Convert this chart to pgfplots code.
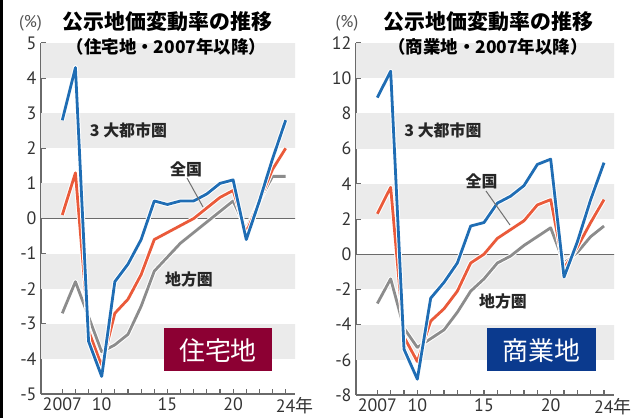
\documentclass[border=0pt]{standalone}
\usepackage{pgfplots}
\pgfplotsset{compat=1.18}
\usepackage{fontspec}
\setmainfont{Noto Sans CJK JP}
\newfontfamily\cjk{Noto Sans CJK JP}
\newfontfamily\tickfont{PT Sans}
\definecolor{bandgray}{HTML}{EBEBEB}
\definecolor{axisgray}{HTML}{6A6A6A}
\definecolor{ticktext}{HTML}{333333}
\definecolor{lblue}{HTML}{1F6DB4}
\definecolor{lred}{HTML}{EA5A3A}
\definecolor{lgray}{HTML}{8C8C8C}
\definecolor{boxred}{HTML}{8C0033}
\definecolor{boxblue}{HTML}{0B3A8E}

\pgfplotstableread{
year metro nation region
2007 2.8 0.1 -2.7
2008 4.3 1.3 -1.8
2009 -3.5 -3.2 -2.8
2010 -4.5 -4.2 -3.8
2011 -1.8 -2.7 -3.6
2012 -1.3 -2.3 -3.3
2013 -0.6 -1.6 -2.5
2014 0.5 -0.6 -1.5
2015 0.4 -0.4 -1.1
2016 0.5 -0.2 -0.7
2017 0.5 0.0 -0.4
2018 0.7 0.3 -0.1
2019 1.0 0.6 0.2
2020 1.1 0.8 0.5
2021 -0.6 -0.4 -0.3
2022 0.5 0.5 0.5
2023 1.7 1.4 1.2
2024 2.8 2.0 1.2
}\residential

\pgfplotstableread{
year metro nation region
2007 8.9 2.3 -2.8
2008 10.4 3.8 -1.4
2009 -5.4 -4.7 -4.2
2010 -7.1 -6.1 -5.3
2011 -2.5 -3.8 -4.8
2012 -1.6 -3.1 -4.3
2013 -0.5 -2.1 -3.3
2014 1.6 -0.5 -2.1
2015 1.8 0.0 -1.4
2016 2.9 0.9 -0.5
2017 3.3 1.4 -0.1
2018 3.9 1.9 0.5
2019 5.1 2.8 1.0
2020 5.4 3.1 1.5
2021 -1.3 -0.8 -0.5
2022 0.7 0.4 0.1
2023 3.1 1.8 1.0
2024 5.2 3.1 1.6
}\commercial

\pgfplotsset{
  panel/.style={
    scale only axis, anchor=south west,
    axis x line=bottom, axis y line=left,
    axis line style={-, draw=axisgray, line width=1.3bp},
    tick style={draw=axisgray, line width=1.1bp},
    tick align=inside,
    major tick length=5bp,
    xtick={2007,...,2024},
    xticklabels={2007,,,10,,,,,15,,,,,20,,,,24\rlap{\cjk 年}},
    ticklabel style={font=\tickfont\fontsize{18}{18}\selectfont, text=ticktext},
    yticklabel style={xshift=-1bp},
    enlargelimits=false,
    clip=true,
  },
  series/.style={line width=2.8bp, draw=#1, preaction={draw=white, line width=4.8bp}, mark=none, line join=round},
}

\begin{document}
\begin{tikzpicture}[x=1bp,y=1bp]
\path[use as bounding box] (0,0) rectangle (637,418);
\fill[black] (0,0) rectangle (3,418);

% Left panel: residential
\begin{axis}[panel, at={(41bp,24bp)}, width=254bp, height=351bp,
  xmin=2005.38, xmax=2024.71, ymin=-5, ymax=5,
  ytick={-5,...,5},
  yticklabels={-5,-4,-3,-2,-1,0,1,2,3,4,5}]
  \fill[bandgray] (axis cs:2000,4) rectangle (axis cs:2030,5);
  \fill[bandgray] (axis cs:2000,2) rectangle (axis cs:2030,3);
  \fill[bandgray] (axis cs:2000,0) rectangle (axis cs:2030,1);
  \fill[bandgray] (axis cs:2000,-2) rectangle (axis cs:2030,-1);
  \fill[bandgray] (axis cs:2000,-4) rectangle (axis cs:2030,-3);
  \draw[axisgray, line width=1.3bp] (axis cs:2000,0) -- (axis cs:2030,0);
  \addplot[series=lgray] table[x=year, y=region] {\residential};
  \addplot[series=lred] table[x=year, y=nation] {\residential};
  \addplot[series=lblue] table[x=year, y=metro] {\residential};
\end{axis}

% Right panel: commercial
\begin{axis}[panel, at={(356bp,23bp)}, width=258bp, height=352bp,
  xmin=2005.4, xmax=2024.75, ymin=-8, ymax=12,
  ytick={-8,-6,...,12},
  yticklabels={-8,-6,-4,-2,0,2,4,6,8,10,12}]
  \fill[bandgray] (axis cs:2000,10) rectangle (axis cs:2030,12);
  \fill[bandgray] (axis cs:2000,6) rectangle (axis cs:2030,8);
  \fill[bandgray] (axis cs:2000,2) rectangle (axis cs:2030,4);
  \fill[bandgray] (axis cs:2000,-2) rectangle (axis cs:2030,0);
  \fill[bandgray] (axis cs:2000,-6) rectangle (axis cs:2030,-4);
  \draw[axisgray, line width=1.3bp] (axis cs:2000,0) -- (axis cs:2030,0);
  \addplot[series=lgray] table[x=year, y=region] {\commercial};
  \addplot[series=lred] table[x=year, y=nation] {\commercial};
  \addplot[series=lblue] table[x=year, y=metro] {\commercial};
\end{axis}

% Titles
\node[text=black, font=\cjk\bfseries\fontsize{21}{21}\selectfont] at (167.5,396) {公示地価変動率の推移};
\node[text=black, font=\cjk\bfseries\fontsize{17.5}{17.5}\selectfont] at (166.5,371) {（住宅地・2007年以降）};
\node[text=black, font=\cjk\bfseries\fontsize{21}{21}\selectfont] at (488.5,396) {公示地価変動率の推移};
\node[text=black, font=\cjk\bfseries\fontsize{17.5}{17.5}\selectfont] at (488,371) {（商業地・2007年以降）};
\node[text=ticktext!85, font=\tickfont\fontsize{17}{17}\selectfont] at (30.5,395) {(\%)};
\node[text=ticktext!85, font=\tickfont\fontsize{17}{17}\selectfont] at (347,395) {(\%)};

% Series labels
\node[text=black!85, font=\cjk\bfseries\fontsize{16}{16}\selectfont] at (128.5,288) {3 大都市圏};
\node[text=black!85, font=\cjk\bfseries\fontsize{16}{16}\selectfont] at (443,288) {3 大都市圏};
\node[text=black!85, font=\cjk\bfseries\fontsize{16}{16}\selectfont] at (186,249) {全国};
\node[text=black!85, font=\cjk\bfseries\fontsize{16}{16}\selectfont] at (481.5,237) {全国};
\node[text=black!85, font=\cjk\bfseries\fontsize{16}{16}\selectfont] at (189,139) {地方圏};
\node[text=black!85, font=\cjk\bfseries\fontsize{16}{16}\selectfont] at (503,117) {地方圏};
\draw[lgray!80!black, line width=1bp] (187,240) -- (203,211);
\draw[lgray!80!black, line width=1bp] (486,227) -- (510,193);

% Boxes
\fill[boxred] (164,47) rectangle (272,90);
\node[text=white, font=\cjk\fontsize{26}{26}\selectfont] at (218,67.5) {住宅地};
\fill[boxblue] (487,47) rectangle (596,90);
\node[text=white, font=\cjk\fontsize{26}{26}\selectfont] at (541.5,67.5) {商業地};
\end{tikzpicture}
\end{document}
